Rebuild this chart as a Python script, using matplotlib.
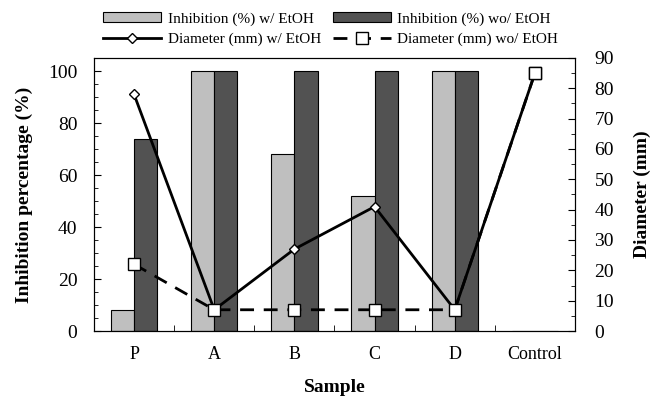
import numpy as np
import matplotlib
matplotlib.use('Agg')
from matplotlib import pyplot as plt
from matplotlib.ticker import MultipleLocator

samples = ['P', 'A', 'B', 'C', 'D', 'Control']
inhib_w = [8, 100, 68, 52, 100, 0]
inhib_wo = [74, 100, 100, 100, 100, 0]
diam_w = [78, 7, 27, 41, 7, 85]
diam_wo = [22, 7, 7, 7, 7, 85]

plt.rcParams['font.family'] = ['Liberation Serif', 'DejaVu Serif']

fig = plt.figure(figsize=(6.55, 3.97), dpi=100)
ax = fig.add_axes([94/655, 1 - 331/397, (575-94)/655, (331-58)/397])
x = np.arange(len(samples))
w = 0.29

b1 = ax.bar(x - w/2, inhib_w, w, color='#bfbfbf', edgecolor='black', lw=0.8,
            label='Inhibition (%) w/ EtOH')
b2 = ax.bar(x + w/2, inhib_wo, w, color='#525252', edgecolor='black', lw=0.8,
            label='Inhibition (%) wo/ EtOH')
ax.set_xlim(-0.5, 5.5)
ax.set_ylim(0, 105)
ax.yaxis.set_major_locator(MultipleLocator(20))
ax.yaxis.set_minor_locator(MultipleLocator(5))
ax.tick_params(axis='y', which='both', direction='in', labelsize=14, pad=12)
ax.tick_params(axis='y', which='major', length=5)
ax.tick_params(axis='y', which='minor', length=3)
ax.set_xticks(x)
ax.set_xticklabels(samples, fontsize=13)
ax.tick_params(axis='x', which='major', length=0, pad=11)
ax.set_xticks([0.5, 1.5, 2.5, 3.5, 4.5, 5.0], minor=True)
ax.tick_params(axis='x', which='minor', direction='in', length=4)
ax.set_xlabel('Sample', fontsize=14, fontweight='bold', labelpad=11)
ax.set_ylabel('Inhibition percentage (%)', fontsize=14, fontweight='bold', labelpad=11)

ax2 = ax.twinx()
ax2.set_ylim(0, 90)
ax2.yaxis.set_major_locator(MultipleLocator(10))
ax2.yaxis.set_minor_locator(MultipleLocator(5))
ax2.tick_params(axis='y', which='both', direction='in', labelsize=14, pad=14)
ax2.tick_params(axis='y', which='major', length=5)
ax2.tick_params(axis='y', which='minor', length=3)
l2, = ax2.plot(x, diam_wo, color='black', lw=2, ls=(0, (5, 3.5)), marker='s', ms=8,
               mfc='white', mec='black', mew=1, label='Diameter (mm) wo/ EtOH', zorder=3)
l1, = ax2.plot(x, diam_w, color='black', lw=2, marker='D', ms=5,
               mfc='white', mec='black', mew=1, label='Diameter (mm) w/ EtOH', zorder=2)
# control square drawn on top
ax2.plot(x[-1:], diam_wo[-1:], ls='none', marker='s', ms=8, mfc='white', mec='black', mew=1, zorder=4)
ax2.set_ylabel('Diameter (mm)', fontsize=14, fontweight='bold', labelpad=14)

fig.legend([b1, l1, b2, l2],
           ['Inhibition (%) w/ EtOH', 'Diameter (mm) w/ EtOH',
            'Inhibition (%) wo/ EtOH', 'Diameter (mm) wo/ EtOH'],
           ncol=2, loc='upper center', bbox_to_anchor=(0.505, 1.005), frameon=False,
           fontsize=11, handlelength=3.8, columnspacing=0.8, labelspacing=0.45,
           handletextpad=0.4)

fig.savefig('out.png', dpi=100)
